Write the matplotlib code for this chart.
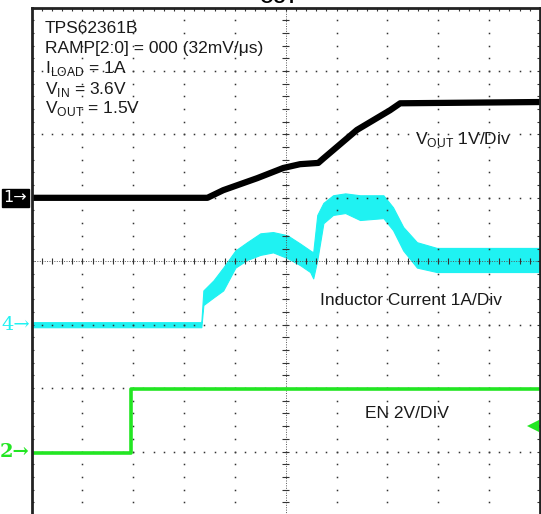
import matplotlib
matplotlib.use("Agg")
import matplotlib.pyplot as plt
import numpy as np

plt.rcParams["font.family"] = ["Liberation Sans", "DejaVu Sans"]
plt.rcParams["mathtext.fontset"] = "custom"
plt.rcParams["mathtext.rm"] = "Liberation Sans"

# scope screen, units are divisions (10 x 8)
# ch1 VOUT (black), 1V/div, marker at +1 div
vout_t = [-5.0, -1.54, -1.23, -0.56, -0.05, 0.28, 0.64, 0.74, 1.40, 2.05, 2.25, 5.0]
vout_v = [1.0, 1.0, 1.12, 1.31, 1.47, 1.53, 1.55, 1.62, 2.07, 2.38, 2.49, 2.51]

# ch4 inductor current (cyan), ripple envelope, marker at -1 div
il_t = [-5.0, -1.66, -1.62, -1.42, -1.23, -0.99, -0.76, -0.50, -0.25, 0.03, 0.28,
        0.48, 0.54, 0.62, 0.74, 0.93, 1.17, 1.46, 1.92, 2.11, 2.31, 2.58, 2.97, 5.0]
il_hi = [-0.96, -0.96, -0.46, -0.30, -0.10, 0.17, 0.30, 0.44, 0.46, 0.41, 0.28,
         0.17, 0.14, 0.73, 0.92, 1.04, 1.07, 1.04, 1.04, 0.85, 0.54, 0.30, 0.21, 0.21]
il_lo = [-1.04, -1.04, -0.69, -0.57, -0.46, -0.10, 0.02, 0.10, 0.14, 0.05, -0.06,
         -0.17, -0.27, 0.02, 0.60, 0.73, 0.76, 0.65, 0.68, 0.49, 0.17, -0.10, -0.17, -0.17]

# ch2 EN (green), 2V/div, marker at -3 div
en_t = [-5.0, -3.04, -3.04, 5.0]
en_v = [-3.03, -3.03, -2.02, -2.02]
trig_level = -2.59

W, H = 541, 514
fig = plt.figure(figsize=(W / 100, H / 100), dpi=100)


def px(x, y):
    return x / W, 1 - y / H


left, top, right, bottom = 31.5, 7.5, 540.0, 515.0
ax = fig.add_axes([left / W, 1 - bottom / H, (right - left) / W, (bottom - top) / H])
ax.set_xlim(-5, 5)
ax.set_ylim(-4, 4)
ax.set_xticks([])
ax.set_yticks([])
for s in ax.spines.values():
    s.set_linewidth(2.0)
    s.set_color("#222222")

# graticule: dots every 0.2 div on each major line
gc = "#333333"
fine_x = np.arange(-5, 5.001, 0.2)
fine_y = np.arange(-4, 4.001, 0.2)
for gx in range(-4, 5):
    if gx != 0:
        ax.plot(np.full_like(fine_y, gx), fine_y, ls="none", marker="s", ms=1.1,
                color=gc, mew=0)
for gy in range(-3, 4):
    if gy != 0:
        ax.plot(fine_x, np.full_like(fine_x, gy), ls="none", marker="s", ms=1.1,
                color=gc, mew=0)

# centre axes with tick marks
ax.axhline(0, color="#555555", lw=0.7, ls=(0, (1, 1.5)))
ax.axvline(0, color="#555555", lw=0.7, ls=(0, (1, 1.5)))
ax.vlines(fine_x, -0.05, 0.05, color=gc, lw=0.8)
ax.hlines(fine_y, -0.07, 0.07, color=gc, lw=0.8)
# border ticks
ax.hlines(fine_y, -5, -4.95, color=gc, lw=0.8)
ax.hlines(fine_y, 4.95, 5, color=gc, lw=0.8)
ax.vlines(fine_x, 3.94, 4, color=gc, lw=0.8)

# traces
cyan = "#1ff2f2"
green = "#22e622"
ax.fill_between(il_t, il_lo, il_hi, color=cyan, lw=0.8, edgecolor=cyan)
ax.plot(vout_t, vout_v, color="black", lw=4.5, solid_capstyle="butt")
ax.plot(en_t, en_v, color=green, lw=2.6, solid_capstyle="butt")
ax.plot([4.86], [trig_level], marker="<", ms=8, color=green, mew=0)
ax.plot([4.86, 5.0], [trig_level, trig_level], color=green, lw=2)

# channel markers on the left
fig.text(*px(15.5, 198), "1\u2192", color="white", fontsize=11.5, ha="center",
         va="center", family="DejaVu Sans",
         bbox=dict(boxstyle="square,pad=0.12", fc="black", ec="black"))
fig.text(*px(30, 325), "4\u2192", color=cyan, fontsize=14, ha="right",
         va="center", family="DejaVu Serif")
fig.text(*px(30, 452), "2\u2192", color=green, fontsize=14, ha="right",
         va="center", family="DejaVu Serif", weight="bold")

# annotations
tc = "#1a1a1a"
fs = 12.5
info = ["TPS62361B", "RAMP[2:0] = 000 (32mV/\u03bcs)", r"I$_{\rm LOAD}$ = 1A",
        r"V$_{\rm IN}$ = 3.6V", r"V$_{\rm OUT}$ = 1.5V"]
for txt, yb in zip(info, [33, 53, 73, 94, 113]):
    fig.text(*px(45, yb), txt, color=tc, fontsize=fs, va="baseline")
fig.text(*px(415, 144), r"V$_{\rm OUT}$ 1V/Div", color=tc, fontsize=fs, va="baseline")
fig.text(*px(320, 305), "Inductor Current 1A/Div", color=tc, fontsize=fs, va="baseline")
fig.text(*px(365, 418), "EN 2V/DIV", color=tc, fontsize=fs, va="baseline")
fig.text(*px(278, 3), "OUT", color="black", fontsize=13, weight="bold",
         ha="center", va="baseline")

fig.savefig("out.png", dpi=100)
